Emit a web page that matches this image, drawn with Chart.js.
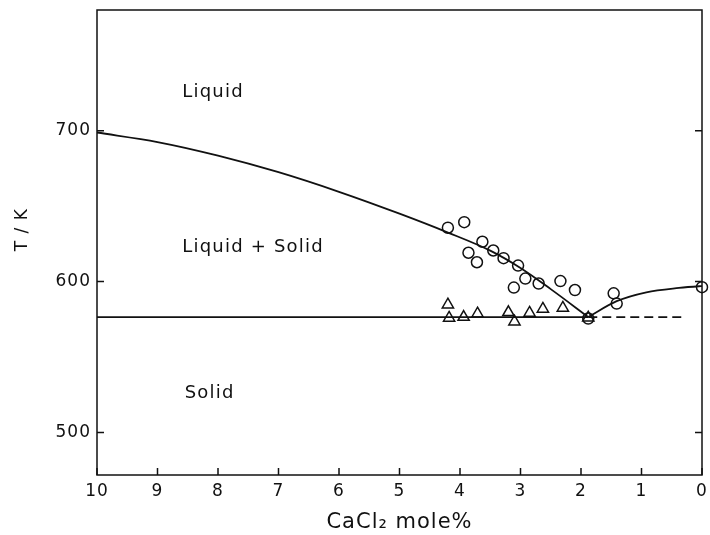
<!DOCTYPE html>
<html>
<head>
<meta charset="utf-8">
<title>CaCl2 phase diagram</title>
<script src="https://cdn.jsdelivr.net/npm/chart.js@4.4.1/dist/chart.umd.min.js"></script>
<style>
  html, body { margin: 0; padding: 0; background: #fff; }
  #wrap { width: 710px; height: 535px; }
</style>
</head>
<body>
<div id="wrap"><canvas id="phaseChart" width="710" height="535"></canvas></div>
<script>
// liquidus measurements (open circles): CaCl2 mole% / T in K
const circleX = [4.20, 3.93, 3.63, 3.86, 3.72, 3.45, 3.28, 3.04, 2.92, 3.11, 2.70, 2.34, 2.10, 1.46, 1.41, 1.88, 0.00];
const circleT = [635.7, 639.4, 626.4, 619.1, 612.8, 620.6, 615.5, 610.6, 602.0, 596.0, 598.7, 600.3, 594.4, 592.2, 585.4, 575.5, 596.3];

// solidus measurements (open triangles)
const triangleX = [4.20, 4.18, 3.94, 3.71, 3.20, 3.10, 2.85, 2.63, 2.30, 1.88];
const triangleT = [584.7, 575.9, 576.5, 578.7, 579.6, 573.4, 579.2, 581.9, 582.5, 576.0];

// drawn curves
const leftCurveX = [10, 9, 8, 7, 6, 5, 4.2, 3.5, 3, 2.5, 1.88];
const leftCurveT = [698.8, 692.5, 683.5, 672.5, 659.5, 645, 632.5, 620.5, 609, 595, 576.5];
const rightCurveX = [1.88, 1.41, 0.92, 0.38, 0.05, 0];
const rightCurveT = [576.5, 587.0, 592.9, 595.8, 596.9, 597.0];
const solidLineX = [10, 1.88];
const solidLineT = [576.5, 576.5];
const dashLineX = [1.88, 0.30];
const dashLineT = [576.5, 576.5];

// axes
const xTicks = [0, 1, 2, 3, 4, 5, 6, 7, 8, 9, 10];
const yTicks = [500, 600, 700];

// region names, placed in data units (left edge of text)
const regionNames = ['Liquid', 'Liquid + Solid', 'Solid'];
const regionX = [8.59, 8.59, 8.55];
const regionT = [725.5, 622.6, 526.2];

const ink = '#111';
const fontFamily = '"DejaVu Sans", sans-serif';

const toPoints = (xs, ts) => xs.map((v, i) => ({ x: v, y: ts[i] }));

// frame, inward ticks and region names
const framePlugin = {
    id: 'frame',
    beforeDraw(chart) {
        chart.ctx.letterSpacing = '1px';
    },
    beforeDatasetsDraw(chart) {
        chart.ctx.letterSpacing = '0px';
    },
    afterDraw(chart) {
        const { ctx, chartArea: a, scales: { x, y } } = chart;
        ctx.save();
        ctx.strokeStyle = ink;
        ctx.lineWidth = 1.5;
        ctx.strokeRect(a.left, a.top, a.right - a.left, a.bottom - a.top);
        ctx.beginPath();
        xTicks.forEach(v => {
            const px = x.getPixelForValue(v);
            ctx.moveTo(px, a.bottom);
            ctx.lineTo(px, a.bottom - 7);
        });
        yTicks.forEach(v => {
            const py = y.getPixelForValue(v);
            ctx.moveTo(a.left, py);
            ctx.lineTo(a.left + 7, py);
            ctx.moveTo(a.right, py);
            ctx.lineTo(a.right - 7, py);
        });
        ctx.stroke();

        ctx.fillStyle = ink;
        ctx.font = '18px ' + fontFamily;
        ctx.letterSpacing = '1.2px';
        ctx.textBaseline = 'middle';
        ctx.textAlign = 'left';
        regionNames.forEach((t, i) => {
            ctx.fillText(t, x.getPixelForValue(regionX[i]), y.getPixelForValue(regionT[i]));
        });
        ctx.restore();
    }
};

const lineStyle = {
    showLine: true,
    pointRadius: 0,
    borderColor: ink,
    borderWidth: 1.8,
    fill: false
};

const ctx = document.getElementById('phaseChart').getContext('2d');
new Chart(ctx, {
    type: 'scatter',
    data: {
        datasets: [
            { ...lineStyle, data: toPoints(leftCurveX, leftCurveT), cubicInterpolationMode: 'monotone' },
            { ...lineStyle, data: toPoints(rightCurveX, rightCurveT), cubicInterpolationMode: 'monotone' },
            { ...lineStyle, data: toPoints(solidLineX, solidLineT) },
            { ...lineStyle, data: toPoints(dashLineX, dashLineT), borderDash: [9, 5] },
            {
                data: toPoints(circleX, circleT),
                pointStyle: 'circle',
                pointRadius: 5.5,
                borderWidth: 1.5,
                borderColor: ink,
                backgroundColor: 'rgba(255,255,255,0)',
                clip: false
            },
            {
                data: toPoints(triangleX, triangleT),
                pointStyle: 'triangle',
                pointRadius: 6.5,
                borderWidth: 1.5,
                borderColor: ink,
                backgroundColor: 'rgba(255,255,255,0)',
                clip: false
            }
        ]
    },
    options: {
        responsive: false,
        animation: false,
        devicePixelRatio: 1,
        layout: { padding: { top: 10, right: -3, left: 0, bottom: 0 } },
        plugins: {
            legend: { display: false },
            tooltip: { enabled: false }
        },
        scales: {
            x: {
                type: 'linear',
                reverse: true,
                min: 0,
                max: 10,
                grid: { display: false, drawTicks: false },
                border: { display: false },
                afterBuildTicks: scale => { scale.ticks = xTicks.map(v => ({ value: v })); },
                afterFit: scale => {
                    scale.height = 60;
                    scale.paddingLeft = 0;
                    scale.paddingRight = 0;
                },
                ticks: {
                    autoSkip: false,
                    maxRotation: 0,
                    padding: 6,
                    color: ink,
                    font: { family: fontFamily, size: 17 }
                },
                title: {
                    display: true,
                    text: 'CaCl₂ mole%',
                    color: ink,
                    font: { family: fontFamily, size: 21 },
                    padding: { top: 0, bottom: 0 }
                }
            },
            y: {
                type: 'linear',
                min: 471.8,
                max: 780,
                grid: { display: false, drawTicks: false },
                border: { display: false },
                afterBuildTicks: scale => { scale.ticks = yTicks.map(v => ({ value: v })); },
                afterFit: scale => {
                    scale.width = 97;
                    scale.paddingTop = 0;
                    scale.paddingBottom = 0;
                },
                ticks: {
                    padding: 6,
                    color: ink,
                    font: { family: fontFamily, size: 17 }
                },
                title: {
                    display: true,
                    text: '    T / K',
                    color: ink,
                    font: { family: fontFamily, size: 17 },
                    padding: { top: 12, bottom: 0 }
                }
            }
        }
    },
    plugins: [framePlugin]
});
</script>
</body>
</html>
